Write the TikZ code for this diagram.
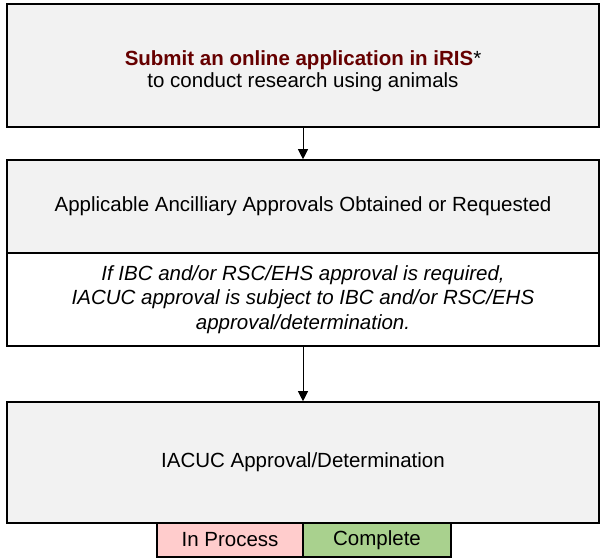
\documentclass[tikz,border=0pt]{standalone}
\usepackage{fontspec}
\setmainfont{Liberation Sans}
\usetikzlibrary{arrows.meta}
\definecolor{boxgray}{HTML}{F2F2F2}
\definecolor{iristext}{HTML}{660000}
\definecolor{procpink}{HTML}{FFCCCC}
\definecolor{donegreen}{HTML}{A9D18E}

\begin{document}
\begin{tikzpicture}[x=1pt, y=1pt,
    stepbox/.style={rectangle, draw, line width=1.6pt, fill=boxgray, minimum width=592pt, inner sep=0pt, align=center, font=\fontsize{20.5}{21.5}\selectfont},
    keybox/.style={rectangle, draw, line width=1.4pt, minimum height=34pt, inner sep=0pt, font=\fontsize{20.5}{22}\selectfont},
    >={Triangle[width=10pt, length=10pt]}]
    \useasboundingbox (0, 0) rectangle (600, -558);

    % ノードの定義
    \node[stepbox, minimum height=123pt] (submit) at (303, -65.5) {};
    \node[align=center, inner sep=0pt, font=\fontsize{20.5}{21.5}\selectfont] (submittext) at (303, -71) {{\bfseries\color{iristext}Submit an online application in iRIS}*\\to conduct research using animals};
    \node[stepbox, minimum height=93pt] (ancil) at (303, -206.5) {Applicable Ancilliary Approvals Obtained or Requested};
    \node[stepbox, fill=white, minimum height=93pt, font=\fontsize{20.5}{24.5}\selectfont\itshape] (ibc) at (303, -299.5) {If IBC and/or RSC/EHS approval is required,\\IACUC approval is subject to IBC and/or RSC/EHS\\approval/determination.};
    \node[stepbox, minimum height=121pt] (iacuc) at (303, -462.5) {IACUC Approval/Determination};

    % 凡例
    \node[keybox, fill=procpink, minimum width=146pt] (proc) at (230, -540) {In Process};
    \node[keybox, fill=donegreen, minimum width=148pt] (done) at (377, -540) {Complete};

    % エッジの定義
    \draw[->, line width=0.8pt] (submit) -- (ancil);
    \draw[->, line width=0.8pt] (ibc) -- (iacuc);
\end{tikzpicture}
\end{document}
